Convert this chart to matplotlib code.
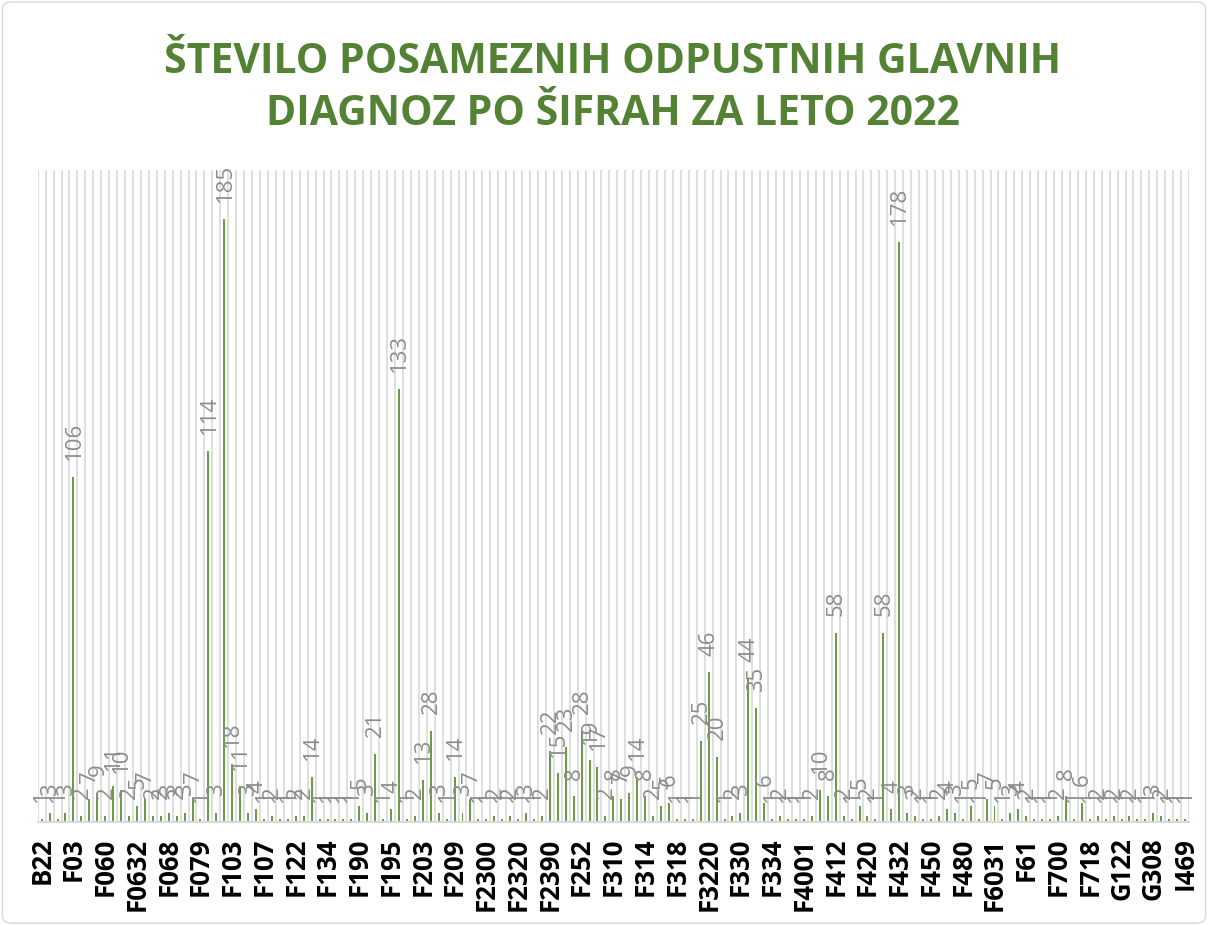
import numpy as np
import matplotlib.pyplot as plt
from matplotlib.patches import FancyBboxPatch

plt.rcParams["font.family"] = ["Open Sans", "DejaVu Sans"]

# stevilo odpustnih diagnoz, ena vrednost na sifro (145 sifer)
values = [
    1, 3, 1, 3, 106, 2, 7, 9, 2, 11, 10, 2, 5, 7, 2, 2, 3, 2, 3, 7,
    1, 114, 3, 185, 18, 11, 3, 4, 1, 2, 1, 1, 2, 2, 14, 1, 1, 1, 1, 1,
    5, 3, 21, 1, 4, 133, 1, 2, 13, 28, 3, 1, 14, 3, 7, 1, 1, 2, 1, 2,
    1, 3, 1, 2, 22, 15, 23, 8, 28, 19, 17, 2, 8, 7, 9, 14, 8, 2, 5, 6,
    1, 1, 1, 25, 46, 20, 1, 2, 3, 44, 35, 6, 1, 2, 1, 1, 1, 2, 10, 8,
    58, 2, 1, 5, 2, 1, 58, 4, 178, 3, 2, 1, 1, 2, 4, 3, 1, 5, 1, 7,
    5, 1, 3, 4, 2, 1, 1, 1, 2, 8, 1, 6, 1, 2, 1, 2, 1, 2, 1, 1,
    3, 2, 1, 1, 1,
]
# vsaka cetrta sifra je izpisana na osi
tick_labels = [
    "B22", "F03", "F060", "F0632", "F068", "F079", "F103", "F107", "F122",
    "F134", "F190", "F195", "F203", "F209", "F2300", "F2320", "F2390", "F252",
    "F310", "F314", "F318", "F3220", "F330", "F334", "F4001", "F412", "F420",
    "F432", "F450", "F480", "F6031", "F61", "F700", "F718", "G122", "G308", "I469",
]
title_lines = ["ŠTEVILO POSAMEZNIH ODPUSTNIH GLAVNIH", "DIAGNOZ PO ŠIFRAH ZA LETO 2022"]

fig = plt.figure(figsize=(12.08, 9.25), dpi=100)
ax = fig.add_axes([0.0312, 0.111, 0.9531, 0.7052])

x = np.arange(len(values))
ax.bar(x, values, width=0.25, color="#6a9e45", zorder=2)
for b in np.arange(-0.5, len(values)):
    ax.axvline(b, color="#d9d9d9", lw=1.2, zorder=0)

ax.set_xlim(-0.5, len(values) - 0.5)
ax.set_ylim(0, 200)
ax.set_yticks([])
ax.set_xticks(x[::4])
ax.set_xticklabels(tick_labels, rotation=90, fontweight="bold", fontsize=18.5)
ax.tick_params(axis="x", length=0, pad=11)
for s in ["top", "left", "right"]:
    ax.spines[s].set_visible(False)
ax.spines["bottom"].set_color("#d9d9d9")
ax.spines["bottom"].set_linewidth(1.5)

for xi, v in zip(x, values):
    ax.annotate(str(v), (xi, v), xytext=(0.5, 12), textcoords="offset points",
                rotation=90, ha="center", va="bottom", fontsize=16,
                color="#8c8c8c", annotation_clip=False)

fig.text(0.507, 0.932, title_lines[0], ha="center", va="center",
         fontsize=29.5, fontweight="bold", color="#548235")
fig.text(0.507, 0.876, title_lines[1], ha="center", va="center",
         fontsize=29.5, fontweight="bold", color="#548235")

fig.patches.append(FancyBboxPatch((0.002, 0.002), 0.996, 0.996,
                                  boxstyle="round,pad=0,rounding_size=0.008",
                                  transform=fig.transFigure, fill=False,
                                  ec="#d9d9d9", lw=1))

fig.savefig("out.png", dpi=100)
